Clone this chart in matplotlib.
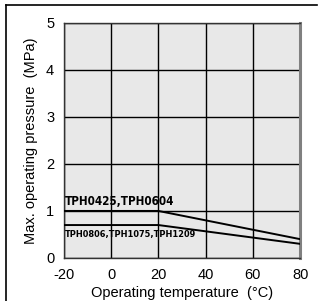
import matplotlib
matplotlib.use('Agg')
import matplotlib.pyplot as plt
from matplotlib.lines import Line2D

# data
temp_upper = [-20, 20, 80]
press_upper = [1.0, 1.0, 0.4]
temp_lower = [-20, 20, 80]
press_lower = [0.7, 0.7, 0.3]
label_upper = 'TPH0425,TPH0604'
label_lower = 'TPH0806,TPH1075,TPH1209'
xticks = [-20, 0, 20, 40, 60, 80]
yticks = [0, 1, 2, 3, 4, 5]

plt.rcParams['font.family'] = ['Liberation Sans', 'DejaVu Sans']
plt.rcParams['axes.unicode_minus'] = False

fig = plt.figure(figsize=(3.21, 3.01), dpi=100)
ax = fig.add_axes([0.199, 0.143, 0.736, 0.781])
ax.set_facecolor('#e8e8e8')

ax.plot(temp_upper, press_upper, color='black', lw=1.4, zorder=3)
ax.plot(temp_lower, press_lower, color='black', lw=1.4, zorder=3)

ax.set_xlim(-20, 80)
ax.set_ylim(0, 5)
ax.set_xticks(xticks)
ax.set_yticks(yticks)
ax.grid(True, color='black', lw=1.0)
ax.tick_params(length=0, labelsize=10.5, pad=7)

for s in ['left', 'bottom', 'top']:
    ax.spines[s].set_color('#333333')
    ax.spines[s].set_linewidth(1.0)
ax.spines['right'].set_color('#808080')
ax.spines['right'].set_linewidth(2.2)

ax.set_xlabel('Operating temperature  (°C)', fontsize=10.5, labelpad=3)
ax.set_ylabel('Max. operating pressure  (MPa)', fontsize=10.5, labelpad=6)

ax.text(-19.4, 1.06, label_upper, fontsize=8.4, fontweight='bold',
        family='DejaVu Sans', fontstretch='condensed', va='bottom', ha='left', zorder=4)
ax.text(-19.4, 0.59, label_lower, fontsize=6.6, fontweight='bold',
        family='DejaVu Sans', fontstretch='condensed', va='top', ha='left', zorder=4)

# figure frame (left and top edges)
fig.add_artist(Line2D([6/321, 6/321], [0, 1 - 5/301], transform=fig.transFigure,
                      color='black', lw=1.2))
fig.add_artist(Line2D([6/321, 317/321], [1 - 5/301, 1 - 5/301], transform=fig.transFigure,
                      color='black', lw=1.2))

fig.savefig('out.png', dpi=100)
